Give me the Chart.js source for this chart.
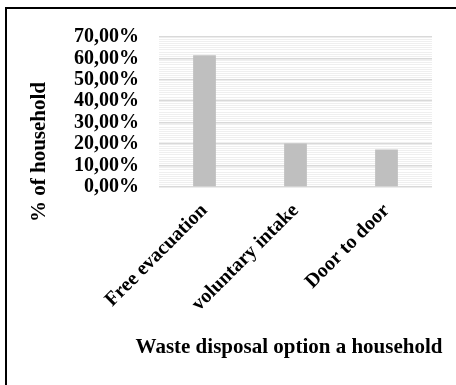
<!DOCTYPE html>
<html>
<head>
<meta charset="utf-8">
<script src="https://cdn.jsdelivr.net/npm/chart.js@4/dist/chart.umd.min.js"></script>
<style>
  html, body { margin: 0; padding: 0; background: #ffffff; }
  #wrap { position: relative; width: 456px; height: 385px; overflow: hidden; }
  #frame { position: absolute; left: 5px; top: 7px; right: -10px; bottom: -10px;
           border-left: 2px solid #000; border-top: 2px solid #000; pointer-events: none; }
  canvas { position: absolute; left: 0; top: 0; }
</style>
</head>
<body>
<div id="wrap">
  <canvas id="chart" width="456" height="385"></canvas>
  <div id="frame"></div>
</div>
<script>
// Waste disposal options and share of households using each
const categories = ['Free evacuation', 'voluntary intake', 'Door to door'];
const shareOfHouseholds = [61.5, 20.3, 17.5];
const yAxisMax = 70;
const yTitle = '% of household';
const xTitle = 'Waste disposal option a household';

const FONT = 'Liberation Serif, Times New Roman, serif';

function pct(v) {
  return v.toFixed(2).replace('.', ',') + '%';
}

// Axis titles, placed freely in the canvas
const axisTitles = {
  id: 'axisTitles',
  afterDraw(chart) {
    const ctx = chart.ctx;
    ctx.save();
    ctx.fillStyle = '#000';
    ctx.font = 'bold 21px ' + FONT;
    ctx.textAlign = 'center';
    ctx.textBaseline = 'middle';
    ctx.fillText(xTitle, 289, 348);
    ctx.translate(40, 152);
    ctx.rotate(-Math.PI / 2);
    ctx.fillText(yTitle, 0, 0);
    ctx.restore();
  }
};

new Chart(document.getElementById('chart'), {
  type: 'bar',
  data: {
    labels: categories,
    datasets: [{
      data: shareOfHouseholds,
      backgroundColor: '#bfbfbf',
      borderWidth: 0,
      barPercentage: 1,
      categoryPercentage: 0.25
    }]
  },
  plugins: [axisTitles],
  options: {
    responsive: false,
    animation: false,
    devicePixelRatio: 1,
    layout: { padding: { left: 8, top: 37, right: 24, bottom: 0 } },
    plugins: { legend: { display: false }, tooltip: { enabled: false } },
    scales: {
      x: {
        grid: { display: false },
        border: { display: false },
        ticks: {
          color: '#000',
          font: { family: FONT, size: 20, weight: 'bold' },
          minRotation: 45, maxRotation: 45, padding: 4
        },
        afterFit(scale) { scale.height = 198; }
      },
      y: {
        min: 0, max: yAxisMax,
        border: { display: false },
        grid: {
          drawTicks: false,
          color: ctx => (ctx.tick && ctx.tick.value % 10 === 0) ? '#d9d9d9' : '#efefef',
          lineWidth: ctx => (ctx.tick && ctx.tick.value % 10 === 0) ? 1.6 : 1
        },
        ticks: {
          stepSize: 1, maxTicksLimit: 100, autoSkip: false,
          color: '#000', padding: 20,
          font: { family: FONT, size: 20, weight: 'bold', lineHeight: 1 },
          callback: v => (v % 10 === 0) ? pct(v) : ''
        },
        afterFit(scale) { scale.width = 151; }
      }
    }
  }
});
</script>
</body>
</html>
